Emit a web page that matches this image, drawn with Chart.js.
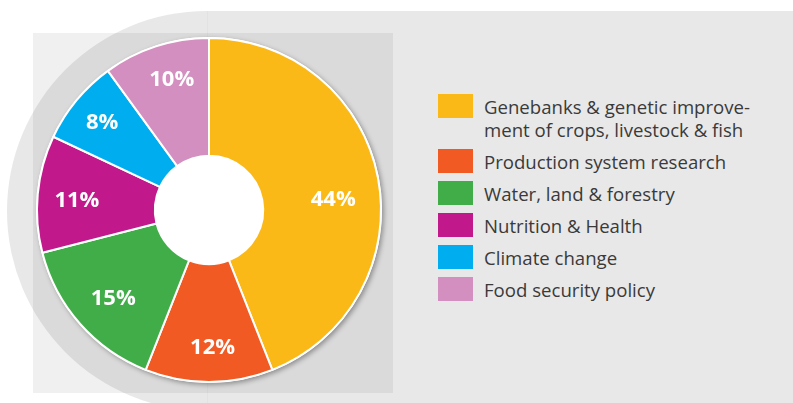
<!DOCTYPE html>
<html><head><meta charset="utf-8">
<script src="https://cdn.jsdelivr.net/npm/chart.js@4.4.0/dist/chart.umd.min.js"></script>
<style>
html,body{margin:0;padding:0;background:#fff;}
#wrap{position:relative;width:793px;height:403px;overflow:hidden;}
#band{position:absolute;left:7px;top:11px;width:900px;height:400px;background:#e8e8e8;border-radius:200px 0 0 200px;}
#seam{position:absolute;left:207px;top:11px;width:1px;height:400px;background:rgba(0,0,0,0.025);}
#sq{position:absolute;left:33px;top:33px;width:360px;height:360px;background:rgba(0,0,0,0.06);}
#cbox{position:absolute;left:23.5px;top:25px;width:370px;height:370px;}
#legend{position:absolute;left:438px;top:94px;font-family:'Open Sans',sans-serif;font-size:18.6px;color:#3a3a3a;}
.item{display:flex;align-items:flex-start;margin-bottom:8px;}
.sw{width:35px;height:24px;flex:none;}
.tx{margin-left:11px;padding-top:1px;line-height:23px;white-space:pre-line;}
</style></head>
<body>
<div id="wrap">
  <div id="band"></div>
  <div id="seam"></div>
  <div id="sq"></div>
  <div id="cbox"><canvas id="c"></canvas></div>
  <div id="legend"></div>
</div>
<script>
const categories = [
  'Genebanks & genetic improve-\nment of crops, livestock & fish',
  'Production system research',
  'Water, land & forestry',
  'Nutrition & Health',
  'Climate change',
  'Food security policy'
];
const shares = [44, 12, 15, 11, 8, 10];
const colors = ['#FBB917', '#F15A22', '#41AD49', '#C1198B', '#00AEEF', '#D38FBF'];

// legend as real text
const leg = document.getElementById('legend');
categories.forEach((c, i) => {
  const it = document.createElement('div'); it.className = 'item';
  const sw = document.createElement('div'); sw.className = 'sw'; sw.style.background = colors[i];
  const tx = document.createElement('div'); tx.className = 'tx'; tx.textContent = c;
  it.appendChild(sw); it.appendChild(tx); leg.appendChild(it);
});

const shadowPlugin = {
  id: 'pieShadow',
  beforeDatasetsDraw(chart) {
    const a = chart.getDatasetMeta(0).data[0];
    if (!a) return;
    const ctx = chart.ctx;
    ctx.save();
    ctx.shadowColor = 'rgba(0,0,0,0.35)';
    ctx.shadowBlur = 5;
    ctx.shadowOffsetX = 2;
    ctx.shadowOffsetY = 2;
    ctx.fillStyle = '#ffffff';
    ctx.beginPath();
    ctx.arc(a.x, a.y, a.outerRadius + 1, 0, Math.PI * 2);
    ctx.fill();
    ctx.restore();
  }
};

const labelPlugin = {
  id: 'pctLabels',
  afterDatasetsDraw(chart, args, opts) {
    const ctx = chart.ctx;
    const meta = chart.getDatasetMeta(0);
    ctx.save();
    ctx.fillStyle = '#ffffff';
    ctx.font = 'bold 22px "Open Sans"';
    ctx.textAlign = 'center';
    ctx.textBaseline = 'middle';
    meta.data.forEach((arc, i) => {
      const nudge = opts.nudge[i] || [0, 0.77];
      const mid = (arc.startAngle + arc.endAngle) / 2 + nudge[0] * Math.PI / 180;
      const r = arc.outerRadius * nudge[1];
      ctx.fillText(shares[i] + '%', arc.x + Math.cos(mid) * r, arc.y + Math.sin(mid) * r);
    });
    ctx.restore();
  }
};

new Chart(document.getElementById('c'), {
  type: 'doughnut',
  data: {
    labels: categories,
    datasets: [{
      data: shares,
      backgroundColor: colors,
      borderColor: '#ffffff',
      borderWidth: 2,
      hoverOffset: 0
    }]
  },
  options: {
    responsive: true,
    maintainAspectRatio: false,
    animation: false,
    radius: 172,
    cutout: 58,
    rotation: 0,
    layout: { padding: 0 },
    plugins: {
      legend: { display: false },
      tooltip: { enabled: false },
      pctLabels: { nudge: [[6, 0.725], [-1.5, 0.80], [-1.5, 0.76], [-1.5, 0.77], [-0.5, 0.80], [2, 0.785]] }
    }
  },
  plugins: [shadowPlugin, labelPlugin]
});
</script>
</body></html>
